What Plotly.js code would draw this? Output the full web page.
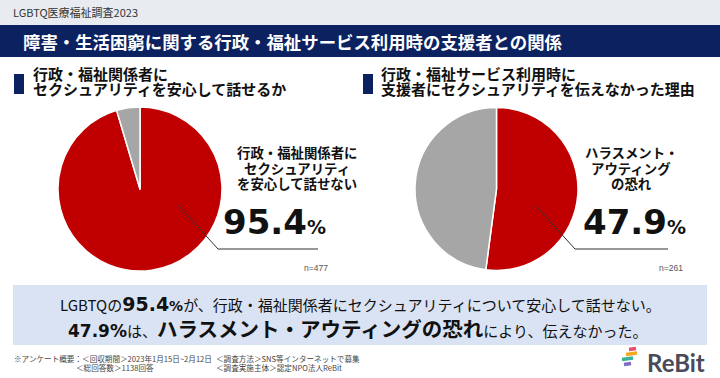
<!DOCTYPE html>
<html><head><meta charset="utf-8">
<script src="https://cdn.plot.ly/plotly-3.0.1.min.js"></script>
<style>html,body{margin:0;padding:0;background:#fff}#chart{width:720px;height:378px}</style>
</head><body><div id="chart"></div>
<script>
// ---- data ----
const leftLabels = ['安心して話せない', '安心して話せる'];
const leftValues = [95.4, 4.6];
const rightLabels = ['ハラスメント・アウティングの恐れ', 'その他'];
const rightValues = [52.1, 47.9];
const sliceColors = ['#C00000', '#A6A6A6'];
const bigNumbers = ['95.4', '47.9'];
const sampleSizes = [477, 261];
const headerText = 'LGBTQ医療福祉調査2023';
const mainTitle = '障害・生活困窮に関する行政・福祉サービス利用時の支援者との関係';
const leftSubtitle = ['行政・福祉関係者に', 'セクシュアリティを安心して話せるか'];
const rightSubtitle = ['行政・福祉サービス利用時に', '支援者にセクシュアリティを伝えなかった理由'];
const leftCallout = ['行政・福祉関係者に', 'セクシュアリティ', 'を安心して話せない'];
const rightCallout = ['ハラスメント・', 'アウティング', 'の恐れ'];
const footerLines = [
  ['※アンケート概要：＜回収期間＞2023年1月15日~2月12日', '＜調査方法＞SNS等インターネットで募集'],
  ['＜総回答数＞1138回答', '＜調査実施主体＞認定NPO法人ReBit']
];

const W = 720, H = 378;
const px = x => x / W, py = y => 1 - y / H;
const JP = '"Noto Sans CJK JP", "Noto Sans", sans-serif';
const NUM = '"DejaVu Sans", sans-serif';

const pieBase = {
  type: 'pie', sort: false, direction: 'clockwise', rotation: 0,
  textinfo: 'none', hoverinfo: 'none', showlegend: false,
  marker: {colors: sliceColors, line: {color: '#ffffff', width: 1.5}}
};
const data = [
  Object.assign({}, pieBase, {labels: leftLabels, values: leftValues,
    domain: {x: [px(58), px(222)], y: [py(271), py(107)]}}),
  Object.assign({}, pieBase, {labels: rightLabels, values: rightValues,
    domain: {x: [px(415), px(578)], y: [py(271), py(107)]}})
];

function rect(x0, y0, x1, y1, color) {
  return {type: 'rect', xref: 'paper', yref: 'paper', layer: 'below',
    x0: px(x0), x1: px(x1), y0: py(y1), y1: py(y0), fillcolor: color, line: {width: 0}};
}
function bar(x0, y0, x1, y1, color) {
  return {type: 'line', xref: 'paper', yref: 'paper', x0: px(x0), y0: py(y0), x1: px(x1), y1: py(y1),
    line: {color: color, width: 3.5}};
}
function leader(pts) {
  let d = pts.map((p, i) => (i ? 'L' : 'M') + px(p[0]) + ',' + py(p[1])).join(' ');
  return {type: 'path', xref: 'paper', yref: 'paper', path: d, layer: 'above',
    line: {color: '#333333', width: 1}};
}
const shapes = [
  rect(0, 0, 720, 25, '#E8EBF0'),
  rect(0, 25, 720, 57, '#0C2260'),
  rect(14, 74, 24, 94, '#0C2260'),
  rect(363, 74, 373, 94, '#0C2260'),
  rect(13, 285, 707, 345, '#DAE3F3'),
  leader([[178, 205], [218, 249], [318, 249]]),
  leader([[535, 205], [575, 249], [668, 249]]),
  bar(629, 349.5, 636, 348.5, '#E94B6B'),
  bar(626, 354.5, 637, 353, '#F5A623'),
  bar(622, 359.5, 633, 358, '#35B29A'),
  bar(624, 364.5, 631, 363.5, '#7E6BC4')
];

function ann(text, x, y, size, opts) {
  return Object.assign({text: text, x: px(x), y: py(y), xref: 'paper', yref: 'paper',
    showarrow: false, xanchor: 'left', yanchor: 'middle', align: 'left',
    font: {family: JP, size: size, color: '#111111'}}, opts || {});
}
const annotations = [
  ann(headerText, 11, 12.5, 11, {font: {family: JP, size: 11, color: '#333333'}}),
  ann('<b>' + mainTitle + '</b>', 21, 41, 17.4, {font: {family: JP, size: 17.4, color: '#ffffff'}})
];
const subY = [73.5, 88.5];
leftSubtitle.forEach((t, i) => annotations.push(ann('<b>' + t + '</b>', 31, subY[i], 15)));
rightSubtitle.forEach((t, i) => annotations.push(ann('<b>' + t + '</b>', 379, subY[i], 15)));
const callY = [152, 167.5, 183];
leftCallout.forEach((t, i) => annotations.push(ann('<b>' + t + '</b>', 297, callY[i], 13.4, {xanchor: 'center', align: 'center'})));
rightCallout.forEach((t, i) => annotations.push(ann('<b>' + t + '</b>', 631, callY[i], 13.4, {xanchor: 'center', align: 'center'})));
annotations.push(
  ann('<b>' + bigNumbers[0] + '<span style="font-size:19px">%</span></b>', 221, 222, 34, {font: {family: NUM, size: 34, color: '#111111'}}),
  ann('<b>' + bigNumbers[1] + '<span style="font-size:19px">%</span></b>', 581, 222, 34, {font: {family: NUM, size: 34, color: '#111111'}}),
  ann('n=' + sampleSizes[0], 316, 268, 8.5, {xanchor: 'center', font: {family: '"Liberation Sans", sans-serif', size: 8.5, color: '#555555'}}),
  ann('n=' + sampleSizes[1], 671, 268, 8.5, {xanchor: 'center', font: {family: '"Liberation Sans", sans-serif', size: 8.5, color: '#555555'}}),
  ann('LGBTQの<b><span style="font-family:' + "'DejaVu Sans'" + ';font-size:19px">' + bigNumbers[0] + '</span><span style="font-family:' + "'DejaVu Sans'" + ';font-size:14px">%</span></b>が、行政・福祉関係者にセクシュアリティについて安心して話せない。',
    360, 304, 15, {xanchor: 'center', align: 'center'}),
  ann('<b><span style="font-family:' + "'DejaVu Sans'" + ';font-size:17px">' + bigNumbers[1] + '%</span></b>は、<b><span style="font-size:20.5px">ハラスメント・アウティングの恐れ</span></b>により、伝えなかった。',
    357, 328, 15, {xanchor: 'center', align: 'center'})
);
const footX = [[12, 214], [74, 214]];
const footY = [358, 367.5];
const footFont = {family: JP, size: 7.6, color: '#444444'};
footerLines.forEach((row, r) => row.forEach((t, c) =>
  annotations.push(ann(t, footX[r][c], footY[r], 7.6, {font: footFont}))));
annotations.push(ann('<b>ReBit</b>', 645, 362, 24, {font: {family: 'Lato, Roboto, sans-serif', size: 24, color: '#4A4A5A'}}));

const layout = {
  width: W, height: H, margin: {l: 0, r: 0, t: 0, b: 0},
  paper_bgcolor: '#ffffff', plot_bgcolor: '#ffffff',
  shapes: shapes, annotations: annotations
};
Plotly.newPlot('chart', data, layout, {staticPlot: true, displayModeBar: false});
</script></body></html>
